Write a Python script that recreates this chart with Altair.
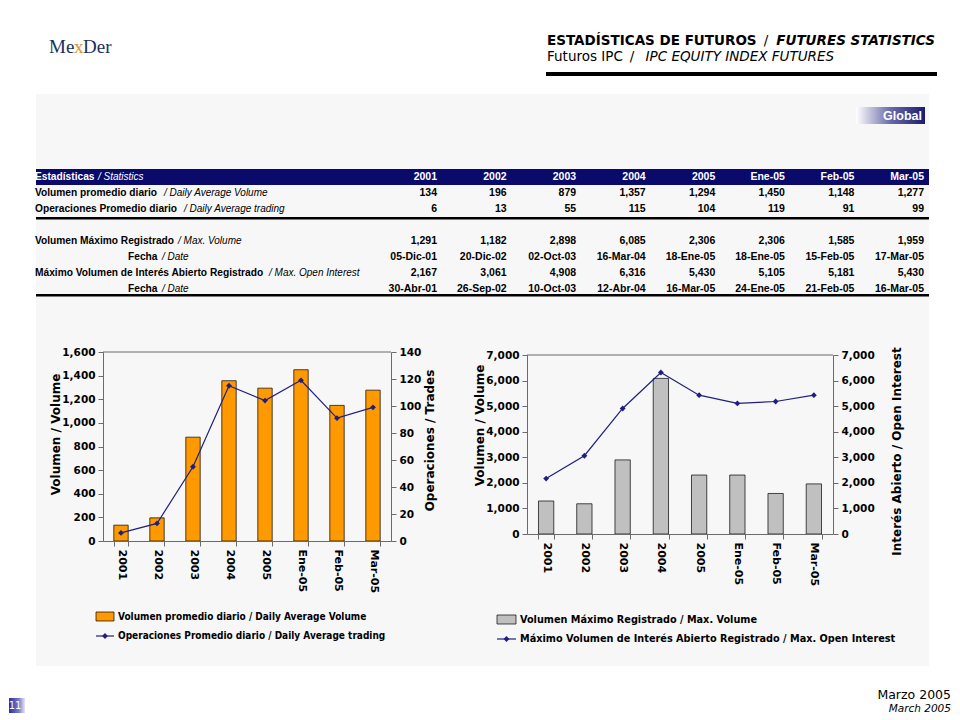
import altair as alt
import pandas as pd

# ---------------- data ----------------
cats = ["2001", "2002", "2003", "2004", "2005", "Ene-05", "Feb-05", "Mar-05"]
avg_volume = [134, 196, 879, 1357, 1294, 1450, 1148, 1277]
avg_trades = [6, 13, 55, 115, 104, 119, 91, 99]
max_volume = [1291, 1182, 2898, 6085, 2306, 2306, 1585, 1959]
max_volume_date = ["05-Dic-01", "20-Dic-02", "02-Oct-03", "16-Mar-04",
                   "18-Ene-05", "18-Ene-05", "15-Feb-05", "17-Mar-05"]
max_oi = [2167, 3061, 4908, 6316, 5430, 5105, 5181, 5430]
max_oi_date = ["30-Abr-01", "26-Sep-02", "10-Oct-03", "12-Abr-04",
               "16-Mar-05", "24-Ene-05", "21-Feb-05", "16-Mar-05"]

row_labels_es = ["Volumen promedio diario", "Operaciones Promedio diario",
                 "Volumen Máximo Registrado", "Fecha",
                 "Máximo Volumen de Interés Abierto Registrado", "Fecha"]
row_labels_en = ["/ Daily Average Volume", "/ Daily Average trading",
                 "/ Max. Volume", "/ Date", "/ Max. Open Interest", "/ Date"]
row_slots = [1, 2, 4, 5, 6, 7]

ticks_avg_volume = list(range(0, 1601, 200))
ticks_trades = list(range(0, 141, 20))
ticks_max = list(range(0, 7001, 1000))

# ---------------- style ----------------
NAVY = "#0a0a6b"
LINE_NAVY = "#1f1f80"
ORANGE = "#ff9900"
GRAY_BAR = "#c0c0c0"
PANEL = "#f7f7f7"
AXC = "#6b6b6b"
F_CHART = "DejaVu Sans"
F_TABLE = "Liberation Sans"
F_LEG = "DejaVu Sans Condensed, Liberation Sans"

one = pd.DataFrame({"k": [0]})


def rect(x1, x2, y1, y2, **kw):
    return alt.Chart(one).mark_rect(**kw).encode(
        x=alt.value(x1), x2=alt.value(x2), y=alt.value(y1), y2=alt.value(y2))


def text(x, y, s, **kw):
    kw.setdefault("baseline", "middle")
    kw.setdefault("align", "left")
    return alt.Chart(one).mark_text(text=s, **kw).encode(x=alt.value(x), y=alt.value(y))


def hrule(x1, x2, y, **kw):
    return alt.Chart(one).mark_rule(**kw).encode(x=alt.value(x1), x2=alt.value(x2), y=alt.value(y))


def diamond(x, y, color):
    return alt.Chart(one).mark_point(shape="diamond", filled=True, size=34, color=color, opacity=1).encode(
        x=alt.value(x), y=alt.value(y))


axc = dict(labelFont=F_CHART, labelFontSize=10.5, labelFontWeight="bold", labelColor="black",
           titleFont=F_CHART, titleFontSize=12, titleFontWeight="bold", titleColor="black",
           domainColor=AXC, tickColor=AXC, tickSize=5, grid=False, zindex=1)


def x_axis():
    ax = dict(axc)
    ax["labelFontSize"] = 11
    return alt.Axis(title=None, labelAngle=90, tickBand="extent", labelPadding=3, **ax)


band = alt.Scale(paddingInner=0.6, paddingOuter=0.3)

# left chart plot area (page px); the header/table view shares its origin x
LX0, LY0, LW, LH = 102, 351, 288, 189


# =============== A : header + table (origin at page x=102, y=8) ===============
def AX(p):
    return p - LX0


def AY(p):
    return p - 8


WA, HA = 928 - LX0, LY0 - 8
layersA = [
    rect(AX(8), AX(20), AY(8), AY(20), fill="white"),
    rect(AX(35), AX(928), AY(93), AY(665), fill=PANEL),
    # logo
    text(AX(48), AY(46), "Me", font="Liberation Serif", fontSize=19, color="#1b2f5e"),
    text(AX(73), AY(46), "x", font="Liberation Serif", fontSize=19, color="#d9952e"),
    text(AX(82), AY(46), "Der", font="Liberation Serif", fontSize=19, color="#1b2f5e"),
    # titles
    text(AX(546), AY(40), "ESTADÍSTICAS DE FUTUROS", font=F_CHART, fontSize=13.5, fontWeight="bold"),
    text(AX(765), AY(40), "/", font=F_CHART, fontSize=13.5, align="center"),
    text(AX(934), AY(40), "FUTURES STATISTICS", font=F_CHART, fontSize=13.5, fontWeight="bold",
         fontStyle="italic", align="right"),
    text(AX(546), AY(56), "Futuros IPC", font=F_CHART, fontSize=13.5),
    text(AX(631), AY(56), "/", font=F_CHART, fontSize=13.5, align="center"),
    text(AX(833), AY(56), "IPC EQUITY INDEX FUTURES", font=F_CHART, fontSize=13.5,
         fontStyle="italic", align="right"),
    rect(AX(545), AX(936), AY(71), AY(75), fill="black"),
    # Global badge
    rect(AX(855), AX(924), AY(106), AY(123),
         color=alt.LinearGradient(gradient="linear", x1=0, x2=1, y1=0, y2=0,
                                  stops=[alt.GradientStop(color="#ffffff", offset=0),
                                         alt.GradientStop(color="#6a6aa8", offset=0.5),
                                         alt.GradientStop(color="#1c1c6e", offset=1)])),
    text(AX(921), AY(115), "Global", font=F_TABLE, fontSize=12.5, fontWeight="bold", color="white", align="right"),
    # table header bar and rules
    rect(AX(35), AX(928), AY(168), AY(184), fill=NAVY),
    rect(AX(35), AX(928), AY(216), AY(218.5), fill="black"),
    rect(AX(35), AX(928), AY(293), AY(295.5), fill="black"),
    text(AX(34), AY(176), "Estadísticas", font=F_TABLE, fontSize=10.2, fontWeight="bold", color="white"),
    text(AX(97), AY(176), "/ Statistics", font=F_TABLE, fontSize=10, fontStyle="italic", color="white"),
]

label_pos = [(34, 163), (34, 183), (34, 177), (127, 161), (34, 268), (127, 161)]
for (xb, xi), es, en, slot in zip(label_pos, row_labels_es, row_labels_en, row_slots):
    yy = AY(176 + 16 * slot)
    layersA.append(text(AX(xb), yy, es, font=F_TABLE, fontSize=10.2, fontWeight="bold"))
    layersA.append(text(AX(xi), yy, en, font=F_TABLE, fontSize=10, fontStyle="italic"))

recs = []
for slot, vals in zip(row_slots, [avg_volume, avg_trades, max_volume, max_volume_date, max_oi, max_oi_date]):
    for c, v in zip(cats, vals):
        recs.append({"col": c, "slot": slot, "t": f"{v:,}" if isinstance(v, int) else v})
body_df = pd.DataFrame(recs)
head_df = pd.DataFrame({"col": cats, "slot": [0] * len(cats), "t": cats})

xcol = alt.X("col:N", sort=cats, axis=None,
             scale=alt.Scale(type="point", domain=cats, range=[AX(436), AX(923)], padding=0))
yrow = alt.Y("slot:Q", axis=None, scale=alt.Scale(domain=[0, 7], range=[AY(176), AY(288)]))

layersA.append(alt.Chart(head_df).mark_text(font=F_TABLE, fontSize=10.5, fontWeight="bold", color="white",
                                             align="right", baseline="middle").encode(x=xcol, y=yrow, text="t:N"))
layersA.append(alt.Chart(body_df).mark_text(font=F_TABLE, fontSize=10.5, fontWeight="bold", color="black",
                                             align="right", baseline="middle").encode(x=xcol, y=yrow, text="t:N"))

chartA = alt.layer(*layersA).properties(width=WA, height=HA)


# =============== L : average volume chart ===============
def X(p):
    return p - LX0


def Y(p):
    return p - LY0


dfL = pd.DataFrame({"cat": cats, "vol": avg_volume, "trades": avg_trades})

barsL = alt.Chart(dfL).mark_bar(fill=ORANGE, stroke="black", strokeWidth=0.7).encode(
    x=alt.X("cat:N", sort=cats, scale=band, axis=x_axis()),
    y=alt.Y("vol:Q", scale=alt.Scale(domain=[0, 1600]),
            axis=alt.Axis(orient="left", values=ticks_avg_volume, format=",.0f", title="Volumen / Volume",
                          titleAngle=270, titleX=X(54.5), titleY=Y(433), titleAlign="center",
                          titleBaseline="middle", labelPadding=3, **axc)))
lineL = alt.Chart(dfL).mark_line(color=LINE_NAVY, strokeWidth=1.2,
                                 point=alt.OverlayMarkDef(shape="diamond", filled=True, size=34,
                                                          color=LINE_NAVY)).encode(
    x=alt.X("cat:N", sort=cats, scale=band, axis=x_axis()),
    y=alt.Y("trades:Q", scale=alt.Scale(domain=[0, 140]),
            axis=alt.Axis(orient="right", values=ticks_trades, format=".0f", title="Operaciones / Trades",
                          titleAngle=270, titleX=428 - (LX0 + LW), titleY=Y(439), titleAlign="center",
                          titleBaseline="middle", labelPadding=3, **axc)))

chartL = alt.layer(
    hrule(0, LW, 0, color=AXC, strokeWidth=1),
    barsL,
    lineL,
    rect(X(95), X(113), Y(611), Y(620), fill=ORANGE, stroke="black", strokeWidth=0.7),
    text(X(117), Y(615.5), "Volumen promedio diario / Daily Average Volume", font=F_LEG,
         fontSize=10, fontWeight="bold"),
    hrule(X(95), X(113), Y(635), color=LINE_NAVY, strokeWidth=1.2),
    diamond(X(104), Y(635), LINE_NAVY),
    text(X(117), Y(635), "Operaciones Promedio diario / Daily Average trading", font=F_LEG,
         fontSize=10, fontWeight="bold"),
    # page number badge
    rect(X(8), X(24), Y(697), Y(712),
         color=alt.LinearGradient(gradient="linear", x1=0, x2=1, y1=0, y2=0,
                                  stops=[alt.GradientStop(color="#2e2e9e", offset=0),
                                         alt.GradientStop(color="#7a7ac4", offset=0.6),
                                         alt.GradientStop(color="#e6e6f4", offset=1)])),
    text(X(14), Y(705), "11", font=F_CHART, fontSize=10, color="white", align="center"),
).resolve_scale(y="independent").properties(width=LW, height=LH)

# =============== R : max volume / open interest chart ===============
# its origin shares the row with L (page y 351); plot spans page y 354..533
RX0, RY0, RW, RH = 526, LY0, 306, 182
RTOP = 3


def RX(p):
    return p - RX0


def RY(p):
    return p - RY0


dfR = pd.DataFrame({"cat": cats, "maxvol": max_volume, "oi": max_oi})
xR = alt.X("cat:N", sort=cats, scale=band, axis=x_axis())

barsR = alt.Chart(dfR).mark_bar(fill=GRAY_BAR, stroke="black", strokeWidth=0.7).encode(
    x=xR,
    y=alt.Y("maxvol:Q", scale=alt.Scale(domain=[0, 7000], range=[RH, RTOP]),
            axis=alt.Axis(orient="left", values=ticks_max, format=",.0f", title="Volumen / Volume",
                          titleAngle=270, titleX=RX(478), titleY=RY(424), titleAlign="center",
                          titleBaseline="middle", labelPadding=3, **axc)))
lineR = alt.Chart(dfR).mark_line(color=LINE_NAVY, strokeWidth=1.2,
                                 point=alt.OverlayMarkDef(shape="diamond", filled=True, size=34,
                                                          color=LINE_NAVY)).encode(
    x=xR,
    y=alt.Y("oi:Q", scale=alt.Scale(domain=[0, 7000], range=[RH, RTOP]),
            axis=alt.Axis(orient="right", values=ticks_max, format=",.0f",
                          title="Interés Abierto / Open Interest",
                          titleAngle=270, titleX=895 - (RX0 + RW), titleY=RY(450), titleAlign="center",
                          titleBaseline="middle", labelPadding=3, **axc)))

chartR = alt.layer(
    hrule(0, RW, RTOP, color=AXC, strokeWidth=1),
    barsR,
    lineR,
    rect(RX(496), RX(515), RY(614), RY(623), fill=GRAY_BAR, stroke="black", strokeWidth=0.7),
    text(RX(519), RY(618.5), "Volumen Máximo Registrado / Max. Volume", font=F_LEG,
         fontSize=10.8, fontWeight="bold"),
    hrule(RX(496), RX(515), RY(638), color=LINE_NAVY, strokeWidth=1.2),
    diamond(RX(505.5), RY(638), LINE_NAVY),
    text(RX(519), RY(638), "Máximo Volumen de Interés Abierto Registrado / Max. Open Interest",
         font=F_LEG, fontSize=10.8, fontWeight="bold"),
    text(RX(950), RY(694), "Marzo 2005", font=F_CHART, fontSize=12.5, align="right"),
    text(RX(950), RY(708), "March 2005", font=F_CHART, fontSize=10.5, fontStyle="italic", align="right"),
).resolve_scale(y="independent").properties(width=RW, height=RH)

chart = alt.vconcat(
    chartA,
    alt.hconcat(chartL, chartR, spacing=RX0 - (LX0 + LW), bounds="flush"),
    spacing=0,
    bounds="flush",
).properties(padding=0).configure_view(stroke="transparent")

chart.save("out.html", embed_options={"renderer": "svg", "actions": False})
